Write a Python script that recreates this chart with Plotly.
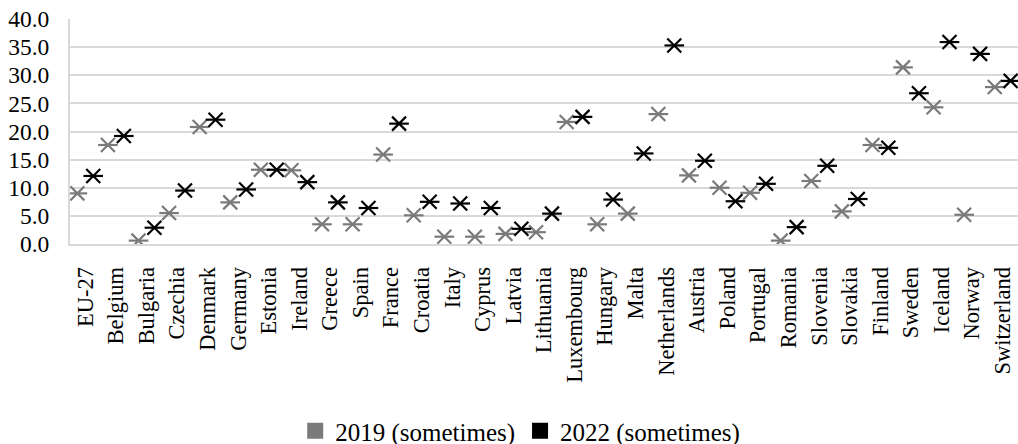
import numpy as np
import plotly.graph_objects as go

# Share of respondents answering "sometimes", by country
countries = [
    "EU-27", "Belgium", "Bulgaria", "Czechia", "Denmark", "Germany", "Estonia",
    "Ireland", "Greece", "Spain", "France", "Croatia", "Italy", "Cyprus",
    "Latvia", "Lithuania", "Luxembourg", "Hungary", "Malta", "Netherlands",
    "Austria", "Poland", "Portugal", "Romania", "Slovenia", "Slovakia",
    "Finland", "Sweden", "Iceland", "Norway", "Switzerland",
]
values_2019 = [
    9.0, 17.6, 0.6, 5.5, 20.8, 7.4, 13.2, 13.1, 3.5, 3.5, 15.9, 5.1, 1.3, 1.3,
    1.8, 2.1, 21.7, 3.5, 5.4, 23.1, 12.2, 10.0, 9.1, 0.6, 11.2, 5.8, 17.6,
    31.4, 24.3, 5.2, 27.9,
]
values_2022 = [
    12.1, 19.2, 2.9, 9.5, 22.1, 9.7, 13.2, 11.0, 7.4, 6.4, 21.4, 7.5, 7.2, 6.4,
    2.7, 5.4, 22.6, 7.9, 16.1, 35.3, 14.8, 7.6, 10.7, 3.0, 13.9, 8.0, 17.1,
    26.8, 35.9, 33.8, 29.0,
]
y_ticks = [0, 5, 10, 15, 20, 25, 30, 35, 40]

FONT = "Liberation Serif, Times New Roman, serif"
GRID = "#d9d9d9"
series = [
    ("2019 (sometimes)", values_2019, "#7a7a7a", -0.26),
    ("2022 (sometimes)", values_2022, "#000000", 0.26),
]

idx = np.arange(len(countries))
fig = go.Figure()

for name, vals, color, shift in series:
    xs = idx + shift
    # cross marker: diagonal X with a horizontal bar through the centre
    for sym in ("x-thin-open", "line-ew-open"):
        fig.add_trace(go.Scatter(
            x=xs, y=vals, mode="markers", name=name, showlegend=False,
            hoverinfo="skip",
            marker=dict(symbol=sym, size=14, color=color,
                        line=dict(color=color, width=2.2)),
        ))

# legend swatches
for name, vals, color, shift in series:
    fig.add_trace(go.Scatter(
        x=[None], y=[None], mode="markers", name=name,
        marker=dict(symbol="square", size=20, color=color,
                    line=dict(width=0)),
    ))

fig.update_layout(
    width=1018, height=444,
    margin=dict(l=70, r=0, t=19, b=200, pad=0),
    paper_bgcolor="white", plot_bgcolor="white",
    font=dict(family=FONT, size=22, color="black"),
    showlegend=True,
    legend=dict(
        orientation="h", xref="container", yref="container",
        x=0.511, xanchor="center", y=1 - 431 / 444, yanchor="middle",
        font=dict(family=FONT, size=25, color="black"),
        itemwidth=30, tracegroupgap=0,
    ),
)

fig.update_xaxes(
    range=[-0.5, len(countries) - 0.5],
    tickmode="array", tickvals=idx, ticktext=countries,
    tickangle=-90, ticks="", ticklabelstandoff=12,
    showgrid=False, zeroline=False,
    showline=True, linecolor=GRID, linewidth=2,
    tickfont=dict(family=FONT, size=22.5, color="black"),
)
fig.update_yaxes(
    range=[0, 40], tickmode="array", tickvals=y_ticks,
    tickformat=".1f", ticks="", ticklabelstandoff=14,
    showgrid=True, gridcolor=GRID, gridwidth=2,
    zeroline=False,
    showline=True, linecolor=GRID, linewidth=2,
    tickfont=dict(family=FONT, size=23.5, color="black"),
)

fig.write_html("out.html")
